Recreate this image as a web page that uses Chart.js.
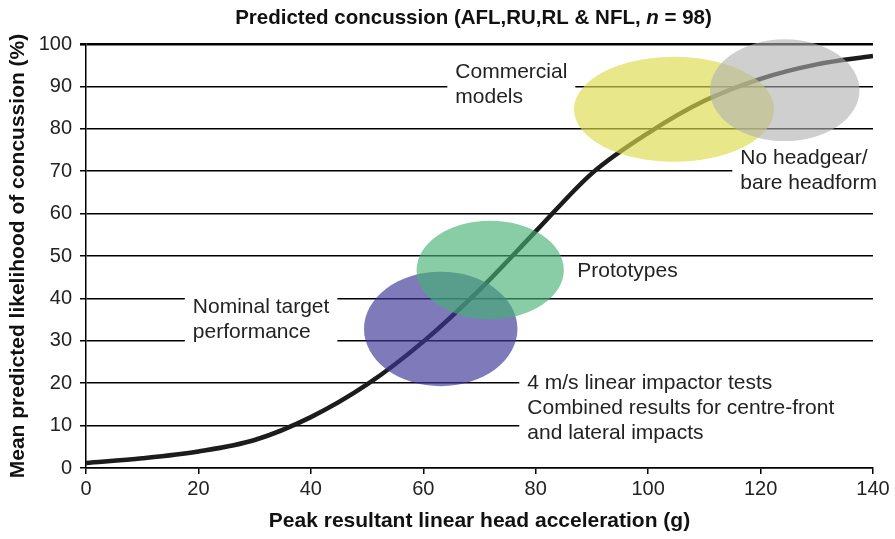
<!DOCTYPE html>
<html>
<head>
<meta charset="utf-8">
<script src="https://cdn.jsdelivr.net/npm/chart.js@4"></script>
<style>
  html, body { margin: 0; padding: 0; background: #fff; }
  #wrap { width: 895px; height: 539px; }
</style>
</head>
<body>
<div id="wrap"><canvas id="c"></canvas></div>
<script>
// curve: mean predicted likelihood vs peak acceleration
const accel = [0, 10, 20, 30, 40, 50, 60, 70, 80, 90, 100, 110, 120, 130, 140];
const likelihood = [1.2, 2.3, 3.9, 6.6, 12, 19.7, 29.8, 42, 55.8, 69.5, 79, 86.6, 91.8, 95.2, 97.2];

// performance regions (centre and half-widths in axis units)
const groups = ['4 m/s impactor', 'Prototypes', 'Commercial models', 'No headgear'];
const groupX = [63.1, 71.9, 104.6, 124.3];
const groupY = [32.8, 46.7, 84.6, 89.1];
const groupRx = [13.65, 13.1, 17.8, 13.3];
const groupRy = [13.5, 11.6, 12.4, 12.0];
const groupColors = ['rgba(60,55,152,0.66)', 'rgba(69,177,115,0.64)', 'rgba(220,220,78,0.66)', 'rgba(175,175,175,0.6)'];

// text notes
const notes = [
  ['Commercial', 'models'],
  ['No headgear/', 'bare headform'],
  ['Prototypes'],
  ['Nominal target', 'performance'],
  ['4 m/s linear impactor tests', 'Combined results for centre-front', 'and lateral impacts']
];
const noteX = [65.7, 116.4, 87.4, 19, 78.5];
const noteY = [93.4, 73.1, 46.5, 38, 20];

const xTicks = [0, 20, 40, 60, 80, 100, 120, 140];
const yTicks = [0, 10, 20, 30, 40, 50, 60, 70, 80, 90, 100];

const FONT = '"Liberation Sans", Arial, sans-serif';

// white boxes + text, drawn over gridlines but under the curve
const notesPlugin = {
  id: 'notes',
  beforeDatasetsDraw(chart) {
    const {ctx, scales: {x, y}} = chart;
    ctx.save();
    ctx.font = '21px ' + FONT;
    ctx.textBaseline = 'middle';
    notes.forEach((lines, i) => {
      const px = x.getPixelForValue(noteX[i]);
      const py = y.getPixelForValue(noteY[i]);
      const w = Math.max(...lines.map(l => ctx.measureText(l).width));
      let right = px + w + 8;
      if (i === 4) right = chart.width;
      ctx.fillStyle = '#fff';
      ctx.fillRect(px - 8, py - 13, right - (px - 8), (lines.length - 1) * 25 + 26);
      ctx.fillStyle = '#222';
      lines.forEach((l, k) => ctx.fillText(l, px, py + k * 25));
    });
    ctx.restore();
  },
  afterDatasetsDraw(chart) {
    const {ctx, scales: {x, y}} = chart;
    ctx.save();
    groups.forEach((g, i) => {
      const cx = x.getPixelForValue(groupX[i]);
      const cy = y.getPixelForValue(groupY[i]);
      const rx = Math.abs(x.getPixelForValue(groupX[i] + groupRx[i]) - cx);
      const ry = Math.abs(y.getPixelForValue(groupY[i] + groupRy[i]) - cy);
      ctx.beginPath();
      ctx.ellipse(cx, cy, rx, ry, 0, 0, Math.PI * 2);
      ctx.fillStyle = groupColors[i];
      ctx.fill();
    });
    ctx.restore();
  },
  afterDraw(chart) {
    // title with italic n
    const {ctx, chartArea} = chart;
    ctx.save();
    ctx.textBaseline = 'middle';
    ctx.fillStyle = '#111';
    const parts = [
      ['bold 20.5px ' + FONT, 'Predicted concussion (AFL,RU,RL & NFL, '],
      ['italic bold 20.5px ' + FONT, 'n'],
      ['bold 20.5px ' + FONT, ' = 98)']
    ];
    let total = 0;
    parts.forEach(p => { ctx.font = p[0]; total += ctx.measureText(p[1]).width; });
    let sx = (chartArea.left + chartArea.right) / 2 - 6 - total / 2;
    parts.forEach(p => {
      ctx.font = p[0];
      ctx.fillText(p[1], sx, 18);
      sx += ctx.measureText(p[1]).width;
    });
    ctx.restore();
  }
};

new Chart(document.getElementById('c'), {
  type: 'scatter',
  data: {
    datasets: [{
      data: accel.map((a, i) => ({x: a, y: likelihood[i]})),
      showLine: true,
      borderColor: '#1c1c1c',
      borderWidth: 4.5,
      pointRadius: 0,
      cubicInterpolationMode: 'monotone'
    }]
  },
  options: {
    responsive: true,
    maintainAspectRatio: false,
    animation: false,
    layout: { padding: { top: 44, right: 22, left: 0, bottom: 0 } },
    plugins: {
      legend: { display: false },
      tooltip: { enabled: false },
      title: { display: false }
    },
    scales: {
      x: {
        type: 'linear',
        min: 0, max: 140,
        afterBuildTicks: s => { s.ticks = xTicks.map(v => ({value: v})); },
        afterFit: s => { s.height = 71; },
        ticks: { color: '#222', font: { size: 20, family: FONT }, padding: 3, maxRotation: 0 },
        grid: { drawOnChartArea: false, drawTicks: true, tickLength: 6, color: '#000', lineWidth: 1.5 },
        border: { color: '#000', width: 1.5 },
        title: {
          display: true,
          text: 'Peak resultant linear head acceleration (g)',
          color: '#111',
          font: { size: 21, weight: 'bold', family: FONT },
          padding: { top: 0, bottom: 5 }
        }
      },
      y: {
        type: 'linear',
        min: 0, max: 100,
        afterBuildTicks: s => { s.ticks = yTicks.map(v => ({value: v})); },
        afterFit: s => { s.width = 86; },
        ticks: { color: '#222', font: { size: 20, family: FONT }, padding: 8 },
        grid: {
          color: '#000',
          lineWidth: c => (c.tick && c.tick.value === 100 ? 2.6 : 1.5),
          tickLength: 6
        },
        border: { color: '#000', width: 1.5 },
        title: {
          display: true,
          text: 'Mean predicted likelihood of concussion (%)',
          color: '#111',
          font: { size: 21, weight: 'bold', family: FONT },
          padding: { top: 6, bottom: 0 }
        }
      }
    }
  },
  plugins: [notesPlugin]
});
</script>
</body>
</html>
